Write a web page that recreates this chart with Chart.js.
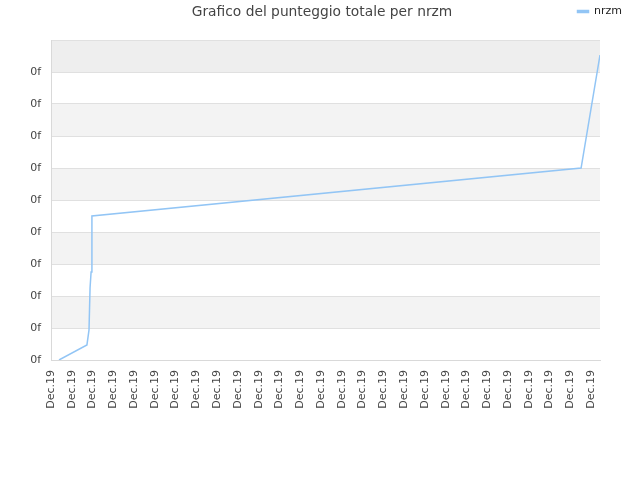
<!DOCTYPE html>
<html>
<head>
<meta charset="utf-8">
<script src="https://cdn.jsdelivr.net/npm/chart.js@4/dist/chart.umd.min.js"></script>
<style>
html,body{margin:0;padding:0;background:#fff;}
#wrap{width:640px;height:480px;position:relative;}
</style>
</head>
<body>
<div id="wrap"><canvas id="c" width="640" height="480"></canvas></div>
<script>
const titleText = "Grafico del punteggio totale per nrzm";
const seriesName = "nrzm";
const xTickLabels = ["Dec.19","Dec.19","Dec.19","Dec.19","Dec.19","Dec.19","Dec.19","Dec.19","Dec.19","Dec.19","Dec.19","Dec.19","Dec.19","Dec.19","Dec.19","Dec.19","Dec.19","Dec.19","Dec.19","Dec.19","Dec.19","Dec.19","Dec.19","Dec.19","Dec.19","Dec.19","Dec.19"];
const yTickLabels = ["0f","0f","0f","0f","0f","0f","0f","0f","0f","0f"];
const xValues = [0.385, 1.73, 1.83, 1.88, 1.93, 1.97, 25.52, 26.43];
const yValues = [0.0, 0.47, 0.94, 2.25, 2.75, 4.5, 6.0, 9.53];

const points = xValues.map((x, i) => ({x: x, y: yValues[i]}));

const bandPlugin = {
  id: 'bands',
  beforeDraw(chart) {
    const {ctx, chartArea, scales} = chart;
    const y = scales.y;
    ctx.save();
    for (let v = 0; v < 10; v++) {
      const top = y.getPixelForValue(v + 1);
      const bot = y.getPixelForValue(v);
      let col = null;
      if (v === 9) col = '#eeeeee';
      else if (v % 2 === 1) col = '#f3f3f3';
      if (col) {
        ctx.fillStyle = col;
        ctx.fillRect(chartArea.left, top, chartArea.right - chartArea.left, bot - top);
      }
    }
    ctx.restore();
  }
};

const titlePlugin = {
  id: 'customTitle',
  afterDraw(chart) {
    const ctx = chart.ctx;
    ctx.save();
    ctx.font = '13.8px "DejaVu Sans"';
    ctx.fillStyle = '#444444';
    ctx.textAlign = 'center';
    ctx.textBaseline = 'middle';
    ctx.fillText(titleText, 322, 12);
    ctx.restore();
  }
};

const blankAxis = {
  type: 'linear',
  min: 0,
  max: 1,
  ticks: {display: false},
  grid: {display: false, drawTicks: false},
  border: {display: false}
};

new Chart(document.getElementById('c'), {
  type: 'line',
  data: {
    datasets: [{
      label: seriesName,
      data: points,
      xAxisID: 'x',
      yAxisID: 'y',
      borderColor: '#92c5f5',
      backgroundColor: '#92c5f5',
      borderWidth: 1.5,
      pointRadius: 0,
      tension: 0,
      fill: false
    }]
  },
  options: {
    responsive: false,
    animation: false,
    layout: {padding: {left: 0, right: 12, top: 0, bottom: 0}},
    plugins: {
      title: {display: false},
      tooltip: {enabled: false},
      legend: {
        display: true,
        position: 'top',
        align: 'end',
        labels: {
          boxWidth: 11,
          boxHeight: 2,
          padding: 6,
          color: '#222222',
          font: {family: 'DejaVu Sans', size: 11}
        }
      }
    },
    scales: {
      x: {
        type: 'linear',
        min: 0,
        max: 26.43,
        afterFit(s) { s.height = 120; },
        afterBuildTicks(s) {
          s.ticks = xTickLabels.map((_, i) => ({value: i}));
        },
        ticks: {
          autoSkip: false,
          maxRotation: 90,
          minRotation: 90,
          padding: 10,
          color: '#444444',
          font: {family: 'DejaVu Sans', size: 11},
          callback: (v, i) => xTickLabels[i]
        },
        grid: {display: false, drawTicks: false},
        border: {display: true, color: '#d9d9d9'}
      },
      y: {
        type: 'linear',
        min: 0,
        max: 10,
        afterFit(s) { s.width = 51; },
        ticks: {
          stepSize: 1,
          padding: 10,
          color: '#444444',
          font: {family: 'DejaVu Sans', size: 11},
          callback: (v) => (v >= 10 ? '' : yTickLabels[v])
        },
        grid: {color: '#e0e0e0', drawTicks: false},
        border: {display: true, color: '#d9d9d9'}
      },
      xTop: Object.assign({}, blankAxis, {position: 'top', afterFit(s) { s.height = 13; }}),
      yRight: Object.assign({}, blankAxis, {position: 'right', afterFit(s) { s.width = 28; }})
    }
  },
  plugins: [bandPlugin, titlePlugin]
});
</script>
</body>
</html>
